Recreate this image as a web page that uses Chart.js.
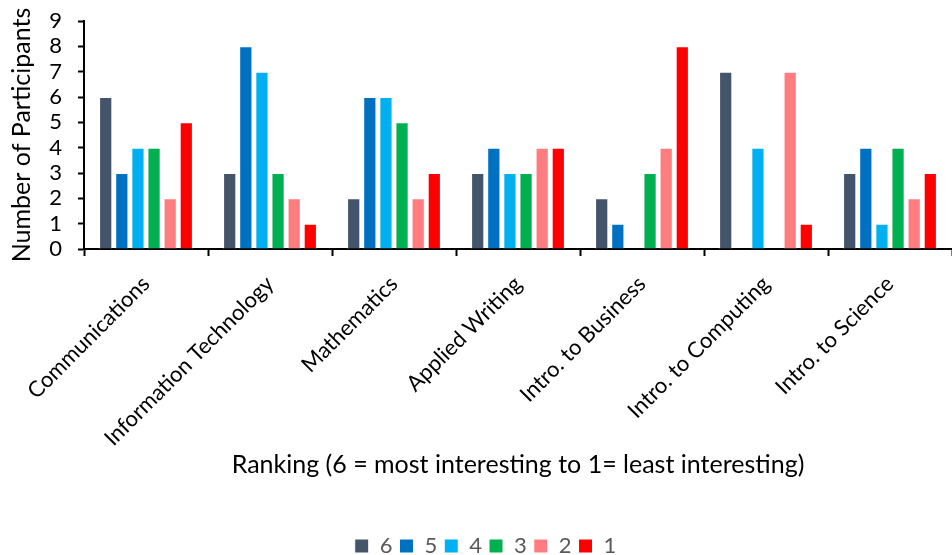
<!DOCTYPE html>
<html>
<head>
<meta charset="utf-8">
<script src="https://cdn.jsdelivr.net/npm/chart.js@4/dist/chart.umd.min.js"></script>
<style>
  html, body { margin: 0; padding: 0; background: #ffffff; }
  #wrap { width: 952px; height: 555px; }
</style>
</head>
<body>
<div id="wrap"><canvas id="chart" width="952" height="555"></canvas></div>
<script>
// Courses rated by participants
const courses = [
  'Communications',
  'Information Technology',
  'Mathematics',
  'Applied Writing',
  'Intro. to Business',
  'Intro. to Computing',
  'Intro. to Science'
];

// Number of participants giving each ranking (6 = most interesting, 1 = least)
const rank6 = [6, 3, 2, 3, 2, 7, 3];
const rank5 = [3, 8, 6, 4, 1, 0, 4];
const rank4 = [4, 7, 6, 3, 0, 4, 1];
const rank3 = [4, 3, 5, 3, 3, 0, 4];
const rank2 = [2, 2, 2, 4, 4, 7, 2];
const rank1 = [5, 1, 3, 4, 8, 1, 3];

const rankLabels = ['6', '5', '4', '3', '2', '1'];
const rankValues = [rank6, rank5, rank4, rank3, rank2, rank1];
const rankColors = ['#44546A', '#0070C0', '#00B0F0', '#00B050', '#FF7C80', '#FF0000'];

const yTicks = [0, 1, 2, 3, 4, 5, 6, 7, 8, 9];

const FONT = 'Lato, "Open Sans", sans-serif';

const datasets = rankLabels.map((lab, i) => ({
  label: lab,
  data: rankValues[i],
  backgroundColor: rankColors[i],
  borderColor: '#ffffff',
  borderWidth: 1,
  borderSkipped: 'bottom',
  barPercentage: 0.82,
  categoryPercentage: 0.78
}));

// Set the legend row a little lower and to the right of its default spot.
const placeLegend = {
  id: 'placeLegend',
  afterLayout(chart) {
    const lg = chart.legend;
    if (lg) {
      lg.top += 12; lg.bottom += 12;
      lg.left += 6; lg.right += 6;
    }
  }
};

new Chart(document.getElementById('chart'), {
  type: 'bar',
  data: { labels: courses, datasets },
  plugins: [placeLegend],
  options: {
    responsive: false,
    animation: false,
    layout: { padding: { top: 21, right: 0, left: 7, bottom: 0 } },
    scales: {
      x: {
        offset: true,
        // the first rotated label may hang past the left of the plot
        afterFit: (scale) => { scale.paddingLeft = 0; },
        grid: {
          display: true,
          offset: true,
          drawOnChartArea: false,
          drawTicks: true,
          tickLength: 7,
          tickColor: '#000000',
          tickWidth: 2
        },
        border: { display: true, color: '#000000', width: 2 },
        ticks: {
          color: '#000000',
          font: { family: FONT, size: 22 },
          minRotation: 45,
          maxRotation: 45,
          autoSkip: false,
          padding: 15
        },
        title: {
          display: true,
          text: 'Ranking (6 = most interesting to 1= least interesting)',
          color: '#000000',
          font: { family: FONT, size: 25 },
          padding: { top: 43, bottom: 36 }
        }
      },
      y: {
        min: 0,
        max: 9,
        afterBuildTicks: (axis) => { axis.ticks = yTicks.map(v => ({ value: v })); },
        afterFit: (scale) => {
          scale.width = 77;
          scale.paddingTop = 0;
          scale.paddingBottom = 0;
        },
        grid: {
          display: true,
          drawOnChartArea: false,
          drawTicks: true,
          tickLength: 6,
          tickColor: '#000000',
          tickWidth: 2
        },
        border: { display: true, color: '#000000', width: 2 },
        ticks: {
          color: '#000000',
          font: { family: FONT, size: 22 },
          padding: 16,
          autoSkip: false,
          stepSize: 1
        },
        title: {
          display: true,
          text: 'Number of Participants',
          color: '#000000',
          font: { family: FONT, size: 25 },
          padding: { top: 0, bottom: 12 }
        }
      }
    },
    plugins: {
      legend: {
        position: 'bottom',
        labels: {
          color: '#595959',
          font: { family: FONT, size: 22 },
          boxWidth: 14,
          boxHeight: 14,
          padding: 7,
          useBorderRadius: false
        }
      },
      tooltip: { enabled: false }
    }
  }
});
</script>
</body>
</html>
